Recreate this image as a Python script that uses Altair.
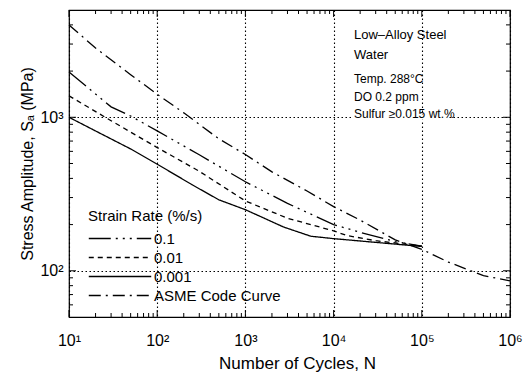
import altair as alt
import pandas as pd

# ---- data ----
asme_n = [10, 20, 50, 100, 200, 500, 1000, 2000, 5000, 1e4, 2e4, 5e4, 1e5, 2e5, 5e5, 1e6]
asme_s = [3999, 2827, 1896, 1413, 1069, 724, 572, 441, 331, 262, 214, 159, 138, 114, 93, 86]

r01_n = [10, 30, 50, 100, 300, 1000, 3000, 1e4, 2e4, 5e4, 1e5]
r01_s = [1970, 1170, 1020, 815, 570, 380, 275, 200, 178, 155, 145]

r001_n = [10, 30, 100, 300, 1000, 3000, 1e4, 1.4e4, 3e4, 1e5]
r001_s = [1380, 950, 635, 445, 285, 220, 182, 170, 157, 145]

r0001_n = [10, 19, 50, 100, 250, 500, 1000, 1500, 2700, 5500, 1e4, 1e5]
r0001_s = [1000, 827, 622, 495, 363, 290, 250, 225, 193, 168, 162, 144]

series_names = ["0.1", "0.01", "0.001", "ASME Code Curve"]
series_dash = [[22, 5, 2, 5, 2, 5, 2, 5], [5, 4], [1, 0], [12, 5, 2, 5]]

x_major = [10, 100, 1000, 1e4, 1e5, 1e6]
x_minor = [m * 10 ** k for k in range(1, 6) for m in range(2, 10)]
y_major = [100, 1000]
y_minor = [60, 70, 80, 90, 200, 300, 400, 500, 600, 700, 800, 900, 2000, 3000, 4000]

annot_title = ["Low\u2013Alloy Steel", "Water"]
annot_cond = ["Temp. 288\u00b0C", "DO 0.2 ppm", "Sulfur \u22650.015 wt.%"]

FONT = "Liberation Sans"
W, H = 441, 307

rows = []
for name, ns, ss in zip(series_names,
                        [r01_n, r001_n, r0001_n, asme_n],
                        [r01_s, r001_s, r0001_s, asme_s]):
    for n, s in zip(ns, ss):
        rows.append({"N": n, "S": s, "series": name})
df = pd.DataFrame(rows)

xscale = alt.Scale(type="log", domain=[10, 1e6], nice=False)
yscale = alt.Scale(type="log", domain=[50, 5000], nice=False)

sup = "['\u2070','\u00b9','\u00b2','\u00b3','\u2074','\u2075','\u2076'][round(log(datum.value)/LN10)]"

x_axis = alt.Axis(values=x_major, title="Number of Cycles, N",
                  labelExpr="'10' + " + sup, ticks=False, domain=False,
                  labelFont=FONT, labelFontSize=16, labelPadding=15,
                  labelColor="black", labelFlush=False,
                  titleFont=FONT, titleFontSize=17, titleFontWeight="normal",
                  titleColor="black", titleY=51, titleX=228,
                  titleBaseline="alphabetic",
                  grid=True, gridColor="black", gridDash=[1.5, 2.5],
                  gridWidth=1.1, gridOpacity=1)
y_axis = alt.Axis(values=y_major, title="Stress Amplitude, S\u2090 (MPa)",
                  labelExpr="'10' + " + sup, ticks=False, domain=False,
                  labelFont=FONT, labelFontSize=16, labelPadding=6,
                  labelColor="black", labelFlush=False,
                  titleFont=FONT, titleFontSize=16, titleFontWeight="normal",
                  titleColor="black", titleX=-37, titleBaseline="alphabetic",
                  grid=True, gridColor="black", gridDash=[1.5, 2.5],
                  gridWidth=1.1, gridOpacity=1)

lines = alt.Chart(df).mark_line(strokeWidth=1.3, color="black").encode(
    x=alt.X("N:Q", scale=xscale, axis=x_axis),
    y=alt.Y("S:Q", scale=yscale, axis=y_axis),
    strokeDash=alt.StrokeDash(
        "series:N",
        scale=alt.Scale(domain=series_names, range=series_dash),
        sort=series_names,
        legend=alt.Legend(orient="none", legendX=19, legendY=199,
                          title="Strain Rate (%/s)", titleFont=FONT,
                          titleFontSize=15, titleFontWeight="normal",
                          titleColor="black", titlePadding=5,
                          labelFont=FONT, labelFontSize=15, labelColor="black",
                          symbolType="stroke", symbolSize=3900,
                          symbolStrokeWidth=1.3, symbolStrokeColor="black",
                          clipHeight=19, rowPadding=0, labelOffset=2,
                          padding=0, symbolOffset=0),
    ),
)

def tick_layer(vals, chan, length, side):
    d = pd.DataFrame({"N": vals, "S": vals})
    base = alt.Chart(d).mark_rule(color="black", strokeWidth=1)
    if chan == "x":
        enc = {"x": alt.X("N:Q", scale=xscale, axis=x_axis)}
        if side == "bottom":
            enc.update(y=alt.value(H), y2=alt.value(H - length))
        else:
            enc.update(y=alt.value(0), y2=alt.value(length))
    else:
        enc = {"y": alt.Y("S:Q", scale=yscale, axis=y_axis)}
        if side == "left":
            enc.update(x=alt.value(0), x2=alt.value(length))
        else:
            enc.update(x=alt.value(W), x2=alt.value(W - length))
    return base.encode(**enc)

ticks = [
    tick_layer(x_major, "x", 7, "bottom"), tick_layer(x_minor, "x", 4, "bottom"),
    tick_layer(x_major, "x", 7, "top"), tick_layer(x_minor, "x", 4, "top"),
    tick_layer(y_major, "y", 7, "left"), tick_layer(y_minor, "y", 4, "left"),
    tick_layer(y_major, "y", 7, "right"), tick_layer(y_minor, "y", 4, "right"),
]

# white gap in the 10^3 grid line behind the "Sulfur" text
gap = alt.Chart(pd.DataFrame({"S": [1000]})).mark_rule(
    color="white", strokeWidth=5
).encode(y=alt.Y("S:Q", scale=yscale, axis=y_axis),
         x=alt.value(284), x2=alt.value(378))

t1 = alt.Chart(pd.DataFrame({"t": [annot_title]})).mark_text(
    align="left", baseline="alphabetic", font=FONT, fontSize=13,
    lineHeight=20, color="black"
).encode(text="t", x=alt.value(285), y=alt.value(29))

t2 = alt.Chart(pd.DataFrame({"t": [annot_cond]})).mark_text(
    align="left", baseline="alphabetic", font=FONT, fontSize=12,
    lineHeight=17.5, color="black"
).encode(text="t", x=alt.value(285), y=alt.value(73))

chart = alt.layer(lines, *ticks, gap, t1, t2).properties(
    width=W, height=H,
    autosize=alt.AutoSizeParams(type="none"),
    padding={"left": 69, "top": 10, "right": 21, "bottom": 58},
    background="white",
).configure_view(stroke="black", strokeWidth=1.2)

chart.save("out.html", embed_options={"renderer": "svg", "actions": False})
